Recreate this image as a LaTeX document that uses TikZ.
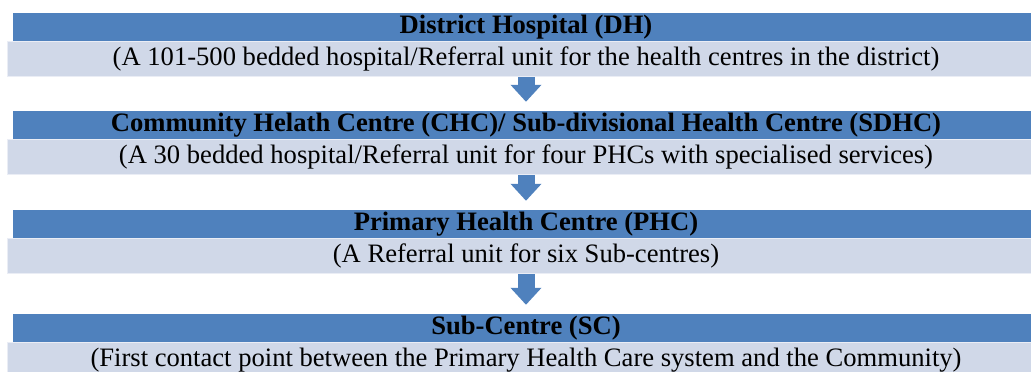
\documentclass[tikz,border=0pt]{standalone}
\usepackage{fontspec}
\setmainfont{Liberation Serif}
\usetikzlibrary{arrows.meta,positioning}
\definecolor{hdrblue}{HTML}{4F81BD}
\definecolor{subgrey}{HTML}{D0D8E8}

\begin{document}
\begin{tikzpicture}[
  x=1pt, y=-1pt,
  level/.style={fill=hdrblue, minimum width=1026pt, minimum height=28pt, inner sep=0pt, font=\fontsize{26.6}{29}\selectfont\bfseries},
  note/.style={fill=subgrey, draw=white!55!subgrey, line width=0.8pt, minimum width=1038pt, minimum height=35pt, inner sep=0pt, font=\fontsize{26.6}{29}\selectfont},
  down/.style={draw=hdrblue, line width=17pt, -{Triangle[width=30pt,length=17pt]}, shorten >=9pt}
]
\useasboundingbox (0,0) rectangle (1031,372);
\clip (0,0) rectangle (1031,372);

\node[level] (dh) at (526,27) {District Hospital (DH)};
\node[note, below=0pt of dh] (dhnote) {(A 101-500 bedded hospital/Referral unit for the health centres in the district)};

\node[level] (chc) at (526,125) {Community Helath Centre (CHC)/ Sub-divisional Health Centre (SDHC)};
\node[note, below=0pt of chc] (chcnote) {(A 30 bedded hospital/Referral unit for four PHCs with specialised services)};

\node[level] (phc) at (526,224) {Primary Health Centre (PHC)};
\node[note, below=0pt of phc] (phcnote) {(A Referral unit for six Sub-centres)};

\node[level] (sc) at (526,328) {Sub-Centre (SC)};
\node[note, below=0pt of sc] (scnote) {(First contact point between the Primary Health Care system and the Community)};

% referral arrows
\draw[down] (dhnote.south) -- (chc.north);
\draw[down] (chcnote.south) -- (phc.north);
\draw[down] (phcnote.south) -- (sc.north);
\end{tikzpicture}
\end{document}
